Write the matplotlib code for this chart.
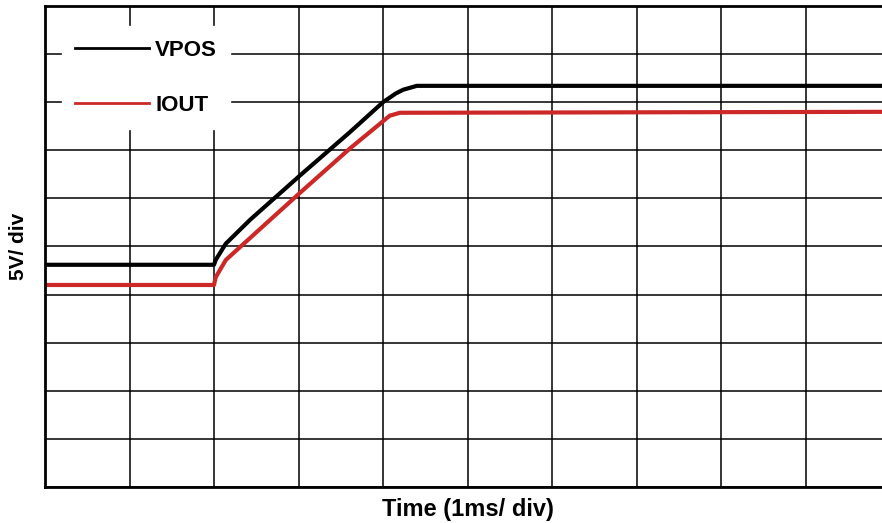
import matplotlib
matplotlib.use("Agg")
import matplotlib.pyplot as plt
from matplotlib.ticker import MultipleLocator

# Zeit in ms (1 ms/div), Spannung in V (5 V/div)
vpos_t = [0.0, 2.0, 2.02, 2.14, 2.43, 3.02, 3.61, 4.0, 4.15, 4.24, 4.4, 10.0]
vpos_v = [23.1, 23.1, 23.6, 25.3, 27.8, 32.4, 36.9, 40.0, 40.9, 41.3, 41.7, 41.7]

iout_t = [0.0, 2.0, 2.02, 2.14, 3.02, 3.61, 4.08, 4.2, 10.0]
iout_v = [21.0, 21.0, 21.8, 23.6, 30.6, 35.2, 38.6, 38.9, 39.0]

labels = ["VPOS", "IOUT"]

plt.rcParams['font.family'] = ['Liberation Sans', 'DejaVu Sans']

fig = plt.figure(figsize=(8.82, 5.23), dpi=100)
ax = fig.add_axes([45 / 882, 36 / 523, 845 / 882, 481 / 523])

ax.plot(vpos_t, vpos_v, color='black', lw=3, label=labels[0], zorder=3)
ax.plot(iout_t, iout_v, color='#cc2828', lw=3, label=labels[1], zorder=2)

ax.set_xlim(0, 10)
ax.set_ylim(0, 50)
ax.xaxis.set_major_locator(MultipleLocator(1))
ax.yaxis.set_major_locator(MultipleLocator(5))
ax.tick_params(length=0, labelbottom=False, labelleft=False)
ax.grid(True, color='black', lw=1.1)
ax.set_axisbelow(True)
for s in ax.spines.values():
    s.set_linewidth(2)
    s.set_color('black')

ax.set_xlabel("Time (1ms/ div)", fontsize=17, fontweight='bold', labelpad=8)
ax.set_ylabel("5V/ div", fontsize=15, fontweight='bold', labelpad=12)

leg = ax.legend(loc='upper left', bbox_to_anchor=(0.02, 0.958), borderaxespad=0,
                frameon=True, fancybox=False, framealpha=1, edgecolor='white',
                prop={'weight': 'bold', 'size': 16}, handlelength=3.3,
                handletextpad=0.3, labelspacing=1.55, borderpad=0.6)
for line in leg.get_lines():
    line.set_linewidth(2)

fig.savefig("out.png", dpi=100)
